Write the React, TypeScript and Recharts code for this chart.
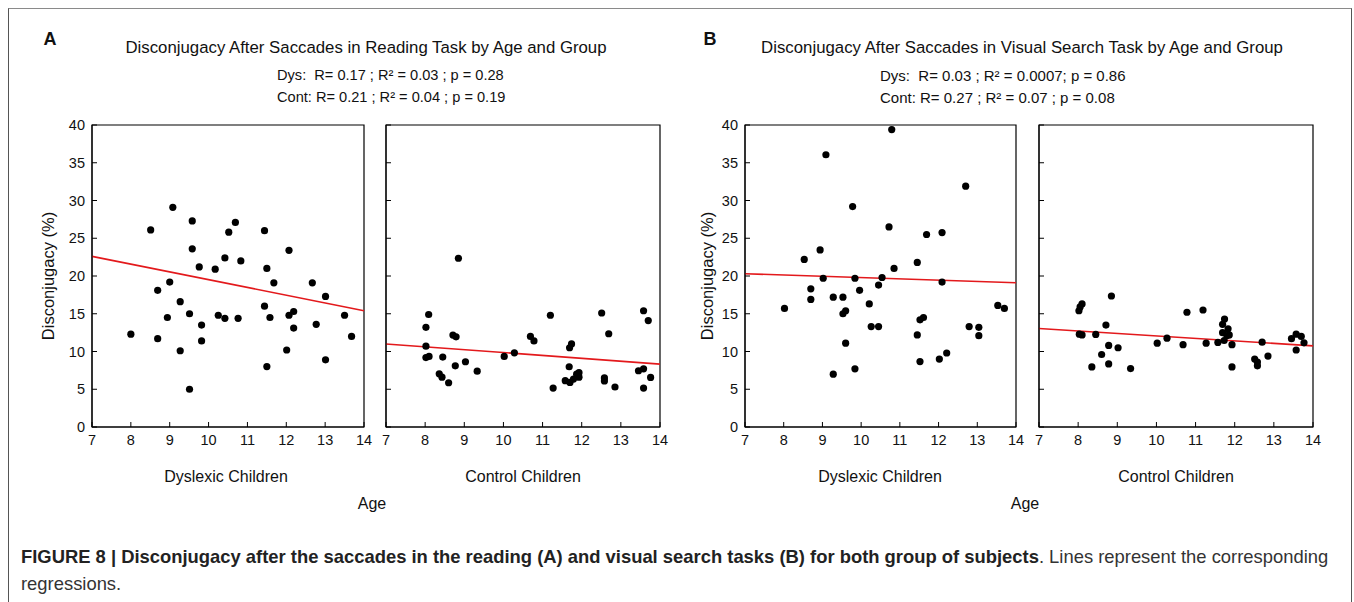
import React from 'react';
import { ScatterChart, Scatter, XAxis, YAxis, ReferenceArea, ReferenceLine } from 'recharts';

const ageTicks = [7, 8, 9, 10, 11, 12, 13, 14];
const pctTicks = [0, 5, 10, 15, 20, 25, 30, 35, 40];

// Reading task
const readDysAge = [8.0, 8.51, 8.69, 8.69, 8.94, 9.0, 9.08, 9.27, 9.27, 9.51, 9.51, 9.58, 9.58, 9.76, 9.82, 9.82, 10.17, 10.25, 10.42, 10.42, 10.52, 10.69, 10.76, 10.83, 11.44, 11.44, 11.5, 11.5, 11.58, 11.68, 12.01, 12.07, 12.07, 12.19, 12.19, 12.67, 12.77, 13.01, 13.01, 13.5, 13.68];
const readDysVal = [12.3, 26.1, 18.1, 11.7, 14.5, 19.2, 29.1, 16.6, 10.1, 15.0, 5.0, 27.3, 23.6, 21.2, 13.5, 11.4, 20.9, 14.8, 22.4, 14.4, 25.8, 27.1, 14.4, 22.0, 26.0, 16.0, 21.0, 8.0, 14.5, 19.1, 10.2, 23.4, 14.8, 15.3, 13.1, 19.1, 13.6, 17.3, 8.9, 14.8, 12.0];
const readDysFit = [22.6, 15.4];

const readContAge = [8.02, 8.02, 8.09, 8.02, 8.1, 8.36, 8.43, 8.45, 8.6, 8.71, 8.79, 8.77, 8.85, 9.03, 9.33, 10.02, 10.28, 10.69, 10.78, 11.2, 11.27, 11.58, 11.68, 11.69, 11.74, 11.7, 11.79, 11.87, 11.93, 11.93, 12.51, 12.58, 12.58, 12.69, 12.85, 13.45, 13.58, 13.58, 13.7, 13.58, 13.76];
const readContVal = [13.2, 10.7, 14.9, 9.2, 9.35, 7.05, 6.6, 9.26, 5.86, 12.17, 11.95, 8.1, 22.35, 8.64, 7.4, 9.35, 9.83, 12.0, 11.4, 14.8, 5.16, 6.13, 7.98, 10.5, 11.0, 5.9, 6.35, 7.0, 7.2, 6.6, 15.1, 6.5, 6.1, 12.35, 5.3, 7.45, 7.7, 15.4, 14.1, 5.16, 6.57];
const readContFit = [11.0, 8.33];

// Visual search task
const searchDysAge = [8.02, 8.53, 8.7, 8.7, 8.94, 9.02, 9.09, 9.28, 9.28, 9.53, 9.53, 9.6, 9.6, 9.78, 9.84, 9.84, 9.96, 10.21, 10.26, 10.45, 10.45, 10.54, 10.72, 10.79, 10.85, 11.45, 11.45, 11.52, 11.61, 11.52, 11.69, 12.02, 12.09, 12.09, 12.21, 12.7, 12.79, 13.04, 13.04, 13.53, 13.7];
const searchDysVal = [15.7, 22.2, 18.3, 16.9, 23.45, 19.7, 36.06, 17.2, 7.0, 17.2, 15.0, 15.4, 11.1, 29.2, 19.7, 7.7, 18.1, 16.3, 13.3, 13.3, 18.8, 19.8, 26.5, 39.4, 21.0, 21.8, 12.2, 14.2, 14.5, 8.67, 25.5, 9.0, 25.75, 19.2, 9.8, 31.9, 13.3, 13.2, 12.1, 16.1, 15.7];
const searchDysFit = [20.3, 19.1];

const searchContAge = [8.02, 8.05, 8.1, 8.03, 8.1, 8.35, 8.45, 8.6, 8.71, 8.78, 8.78, 8.85, 9.02, 9.34, 10.02, 10.27, 10.68, 10.78, 11.19, 11.27, 11.57, 11.69, 11.74, 11.69, 11.73, 11.83, 11.86, 11.8, 11.93, 11.93, 12.51, 12.58, 12.58, 12.7, 12.85, 13.45, 13.57, 13.57, 13.7, 13.77];
const searchContVal = [15.4, 15.9, 16.3, 12.3, 12.2, 7.96, 12.26, 9.6, 13.5, 10.8, 8.36, 17.35, 10.5, 7.74, 11.1, 11.77, 10.9, 15.2, 15.5, 11.1, 11.2, 13.6, 14.3, 12.5, 11.46, 13.0, 12.2, 12.1, 10.9, 7.96, 9.0, 8.6, 8.1, 11.24, 9.4, 11.7, 12.3, 10.2, 12.0, 11.15];
const searchContFit = [13.05, 10.75];

const FONT = '"Liberation Sans", Arial, Helvetica, sans-serif';
const TICK_MARGIN = 7;

// ticks point inwards, labels stay outside
const XTick = (props: any) => {
  const { x, y, payload } = props;
  const axisY = y - TICK_MARGIN;
  return (
    <g>
      <line x1={x} x2={x} y1={axisY} y2={axisY - 5} stroke="#000" />
      <text x={x} y={y} dy="0.75em" textAnchor="middle" fontSize={14.5} fill="#111" fontFamily={FONT}>
        {payload.value}
      </text>
    </g>
  );
};

const makeYTick = (showLabel: boolean) => (props: any) => {
  const { x, y, payload } = props;
  const axisX = x + TICK_MARGIN;
  return (
    <g>
      <line x1={axisX} x2={axisX + 5} y1={y} y2={y} stroke="#000" />
      {showLabel && (
        <text x={x} y={y} dy="0.36em" textAnchor="end" fontSize={14.5} fill="#111" fontFamily={FONT}>
          {payload.value}
        </text>
      )}
    </g>
  );
};

const Dot = (p: any) => <circle cx={p.cx} cy={p.cy} r={3.6} fill="#000" />;

interface PanelProps {
  left: number;
  top: number;
  w: number;
  h: number;
  ages: number[];
  vals: number[];
  fit: number[];
  showLabels: boolean;
}

const Panel: React.FC<PanelProps> = ({ left, top, w, h, ages, vals, fit, showLabels }) => {
  const data = ages.map((a, i) => ({ x: a, y: vals[i] }));
  return (
    <div style={{ position: 'absolute', left: left - 40, top: top - 10 }}>
      <ScatterChart width={w + 50} height={h + 40} margin={{ top: 10, right: 10, left: 0, bottom: 0 }}>
        <XAxis
          type="number"
          dataKey="x"
          domain={[7, 14]}
          ticks={ageTicks}
          height={30}
          tickSize={0}
          tickMargin={TICK_MARGIN}
          tick={<XTick />}
          axisLine={{ stroke: '#000' }}
          interval={0}
        />
        <YAxis
          type="number"
          dataKey="y"
          domain={[0, 40]}
          ticks={pctTicks}
          width={40}
          tickSize={0}
          tickMargin={TICK_MARGIN}
          tick={makeYTick(showLabels)}
          axisLine={{ stroke: '#000' }}
          interval={0}
        />
        <ReferenceArea x1={7} x2={14} y1={0} y2={40} fill="none" stroke="#000" strokeWidth={1.2} />
        <ReferenceLine
          segment={[{ x: 7, y: fit[0] }, { x: 14, y: fit[1] }]}
          stroke="#e3191c"
          strokeWidth={1.6}
        />
        <Scatter data={data} shape={<Dot />} isAnimationActive={false} />
      </ScatterChart>
    </div>
  );
};

const Label: React.FC<{ x: number; y: number; size?: number; bold?: boolean; align?: 'center' | 'left'; children: React.ReactNode }> = ({ x, y, size = 15, bold, align = 'center', children }) => (
  <div
    style={{
      position: 'absolute',
      left: x,
      top: y,
      transform: align === 'center' ? 'translate(-50%, -50%)' : 'translate(0, -50%)',
      fontSize: size,
      fontWeight: bold ? 'bold' : 'normal',
      fontFamily: FONT,
      color: '#111',
      whiteSpace: 'nowrap',
      lineHeight: 1,
    }}
  >
    {children}
  </div>
);

const YLabel: React.FC<{ x: number; y: number }> = ({ x, y }) => (
  <div
    style={{
      position: 'absolute',
      left: x,
      top: y,
      transform: 'translate(-50%, -50%) rotate(-90deg)',
      fontSize: 16.5,
      fontFamily: FONT,
      color: '#111',
      whiteSpace: 'nowrap',
      lineHeight: 1,
    }}
  >
    Disconjugacy (%)
  </div>
);

export default function App() {
  const top = 124.5;
  const h = 302;
  return (
    <div style={{ position: 'absolute', left: 0, top: 0, width: 1354, height: 602, overflow: 'hidden', background: '#fff' }}>
      <div
        style={{
          position: 'absolute',
          left: 8,
          top: 8,
          width: 1344,
          height: 640,
          borderTop: '1.5px solid #8a8a8a',
          borderLeft: '1px solid #555',
          borderRight: '1px solid #555',
          boxSizing: 'border-box',
        }}
      />

      <Label x={50} y={39} size={18} bold>A</Label>
      <Label x={366} y={48} size={16.8}>Disconjugacy After Saccades in Reading Task by Age and Group</Label>
      <Label x={277} y={75} size={14.6} align="left">Dys:&nbsp; R= 0.17 ; R² = 0.03 ; p = 0.28</Label>
      <Label x={277} y={97} size={14.6} align="left">Cont: R= 0.21 ; R² = 0.04 ; p = 0.19</Label>

      <Label x={710} y={39} size={18} bold>B</Label>
      <Label x={1022} y={48} size={16.8}>Disconjugacy After Saccades in Visual Search Task by Age and Group</Label>
      <Label x={880} y={75} size={15} align="left">Dys:&nbsp; R= 0.03 ; R² = 0.0007; p = 0.86</Label>
      <Label x={880} y={97} size={15} align="left">Cont: R= 0.27 ; R² = 0.07 ; p = 0.08</Label>

      <YLabel x={48} y={276} />
      <YLabel x={707} y={276} />

      <Panel left={92} top={top} w={272} h={h} ages={readDysAge} vals={readDysVal} fit={readDysFit} showLabels />
      <Panel left={386} top={top} w={274} h={h} ages={readContAge} vals={readContVal} fit={readContFit} showLabels={false} />
      <Panel left={745} top={top} w={271} h={h} ages={searchDysAge} vals={searchDysVal} fit={searchDysFit} showLabels />
      <Panel left={1039} top={top} w={274} h={h} ages={searchContAge} vals={searchContVal} fit={searchContFit} showLabels={false} />

      <Label x={226} y={477} size={16}>Dyslexic Children</Label>
      <Label x={523} y={477} size={16}>Control Children</Label>
      <Label x={372} y={504} size={16}>Age</Label>
      <Label x={880} y={477} size={16}>Dyslexic Children</Label>
      <Label x={1176} y={477} size={16}>Control Children</Label>
      <Label x={1025} y={504} size={16}>Age</Label>

      <div
        style={{
          position: 'absolute',
          left: 21,
          top: 543,
          width: 1322,
          fontFamily: FONT,
          fontSize: 18.4,
          lineHeight: '27px',
          color: '#333',
        }}
      >
        <span style={{ fontWeight: 'bold', color: '#222' }}>
          FIGURE 8 | Disconjugacy after the saccades in the reading (A) and visual search tasks (B) for both group of subjects
        </span>
        . Lines represent the corresponding regressions.
      </div>
    </div>
  );
}
